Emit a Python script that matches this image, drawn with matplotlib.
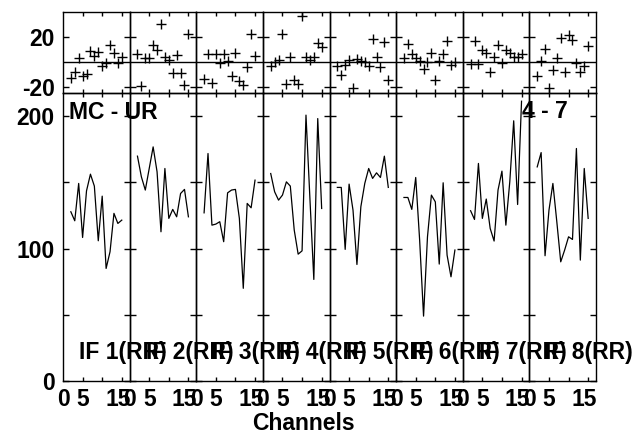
import matplotlib
matplotlib.use('Agg')
import matplotlib.pyplot as plt

channels = [2, 3, 4, 5, 6, 7, 8, 9, 10, 11, 12, 13, 14, 15]
if_labels = ['IF 1(RR)', 'IF 2(RR)', 'IF 3(RR)', 'IF 4(RR)',
             'IF 5(RR)', 'IF 6(RR)', 'IF 7(RR)', 'IF 8(RR)']

phase_if1 = [-12.8, -8.0, 3.2, -11.2, -10.1, 8.8, 4.8, 8.0, -3.2, -0.8, 13.9, 7.2, -0.8, 3.8]
phase_if2 = [5.9, -19.4, 3.2, 3.2, 13.9, 9.4, 30.7, 3.5, 1.4, -8.8, 5.4, -8.8, -18.6, 22.7]
phase_if3 = [-14.1, 5.9, -17.3, 5.9, -0.8, 5.9, 0.6, -11.4, 7.5, -15.4, -18.6, -4.0, 22.7, 4.6]
phase_if4 = [-3.4, 0.0, 1.4, 22.7, -17.8, 3.5, -14.6, -18.1, 36.6, 3.5, 1.4, 3.5, 15.2, 12.0]
phase_if5 = [-3.4, -10.6, -2.6, 1.4, -20.8, 1.9, 0.6, 0.0, -3.4, 18.2, 3.5, -4.0, 16.0, -14.6]
phase_if6 = [2.7, 14.7, 6.2, 3.0, 0.5, -6.1, 0.0, 7.5, -14.6, 0.6, 6.6, 16.6, -2.6, 0.0]
phase_if7 = [-2.1, 16.6, -2.1, 9.9, 7.2, -8.0, 4.0, 13.4, -1.3, 9.9, 6.7, 3.5, 3.5, 6.2]
phase_if8 = [-11.4, 0.8, 10.7, -20.8, -6.6, 3.2, 19.2, -8.0, 21.9, 17.4, -1.3, -8.0, -3.2, 12.8]

amp_if1 = [127.8, 121.0, 149.2, 108.4, 143.6, 156.2, 147.2, 105.9, 139.6, 85.0, 97.6, 126.6, 119.0, 121.5]
amp_if2 = [169.8, 154.2, 144.2, 160.5, 176.8, 158.0, 112.7, 160.5, 122.8, 129.6, 124.0, 141.6, 144.7, 124.0]
amp_if3 = [127.0, 171.8, 117.7, 118.5, 120.3, 105.2, 142.1, 144.2, 144.7, 122.8, 70.0, 134.1, 130.8, 151.7]
amp_if4 = [156.7, 142.9, 136.6, 140.4, 150.4, 147.2, 114.0, 95.8, 98.3, 200.8, 138.0, 76.7, 198.2, 130.3]
amp_if5 = [146.2, 146.2, 99.4, 148.7, 129.0, 88.0, 131.6, 149.2, 160.5, 153.0, 157.2, 153.7, 169.8, 146.2]
amp_if6 = [138.6, 138.6, 129.6, 153.7, 106.4, 49.0, 108.9, 140.4, 135.3, 88.3, 149.7, 95.1, 78.7, 98.9]
amp_if7 = [128.6, 122.0, 164.3, 122.8, 137.4, 115.2, 105.7, 144.2, 158.5, 117.7, 150.4, 196.5, 133.3, 211.3]
amp_if8 = [161.7, 172.5, 94.6, 129.0, 149.2, 120.3, 90.0, 98.9, 108.9, 106.9, 175.6, 91.3, 160.5, 122.8]

phases = [phase_if1, phase_if2, phase_if3, phase_if4, phase_if5, phase_if6, phase_if7, phase_if8]
amps = [amp_if1, amp_if2, amp_if3, amp_if4, amp_if5, amp_if6, amp_if7, amp_if8]

plt.rcParams['font.family'] = ['Liberation Sans', 'DejaVu Sans']
plt.rcParams['font.weight'] = 'bold'
FS = 16.5

W, H = 636, 434
fig = plt.figure(figsize=(W / 100, H / 100), dpi=100)
fig.patch.set_facecolor('white')
x0, x1 = 63, 596
pw = (x1 - x0) / 8.0

for i in range(8):
    left = (x0 + i * pw) / W
    axp = fig.add_axes([left, 1 - 93 / H, pw / W, 81 / H])
    axa = fig.add_axes([left, 1 - 381 / H, pw / W, 288 / H])

    axp.plot(channels, phases[i], linestyle='none', marker='+', color='black',
             markersize=7, markeredgewidth=1.0)
    axp.axhline(0, color='black', lw=1.0)
    axp.set_xlim(0, 17)
    axp.set_ylim(-25, 40)

    axa.plot(channels, amps[i], color='black', lw=0.9)
    axa.set_xlim(0, 17)
    axa.set_ylim(0, 217.5)

    for ax in (axp, axa):
        ax.set_facecolor('none')
        for s in ax.spines.values():
            s.set_linewidth(1.0)
            s.set_color('black')
        ax.set_xticks([5, 10, 15])
        ax.set_xticklabels([])
        ax.tick_params(axis='both', which='major', direction='in', top=True, right=True,
                       width=1.0, labelsize=FS)
        ax.tick_params(axis='x', which='major', length=3.2)
        ax.tick_params(axis='y', which='major', length=4.3, pad=6)

    axp.set_yticks([-20, 20])
    axa.set_yticks([0, 50, 100, 150, 200])
    if i == 0:
        axp.set_yticklabels(['-20', '20'])
        axa.set_yticklabels(['0', '', '100', '', '200'])
        for lab in axp.get_yticklabels() + axa.get_yticklabels():
            lab.set_fontweight('bold')
    else:
        axp.set_yticklabels([])
        axa.set_yticklabels([])

    axa.xaxis.remove_overlapping_locs = False
    axa.set_xticks([0, 5, 14], minor=True)
    axa.set_xticklabels(['0', '5', '15'], minor=True, fontsize=FS, fontweight='bold')
    axa.tick_params(axis='x', which='minor', length=0, pad=5, top=False)

    fig.text((x0 + i * pw + 16) / W, 1 - 352 / H, if_labels[i],
             fontsize=FS, fontweight='bold', ha='left', va='center', zorder=10)

fig.text(69 / W, 1 - 113 / H, 'MC - UR', fontsize=FS, fontweight='bold', ha='left', va='center')
fig.text(522 / W, 1 - 112 / H, '4 - 7', fontsize=FS, fontweight='bold', ha='left', va='center')
fig.text(303.5 / W, 1 - 423 / H, 'Channels', fontsize=FS, fontweight='bold', ha='center', va='center')

fig.savefig('out.png', dpi=100, facecolor='white')
